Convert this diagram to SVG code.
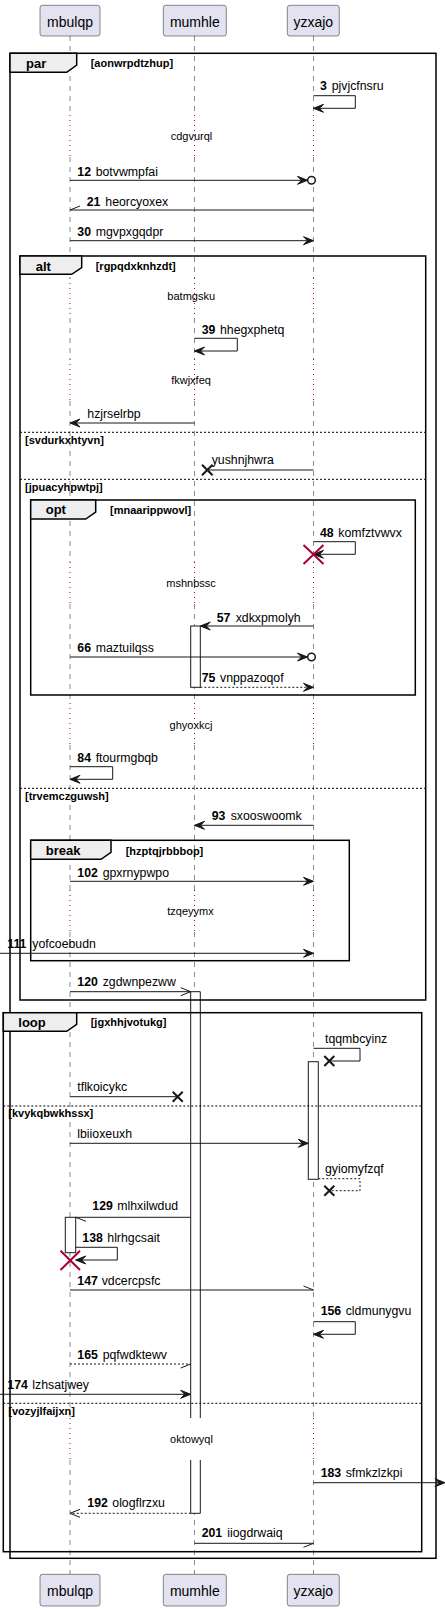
<svg xmlns="http://www.w3.org/2000/svg" width="445" height="1611" viewBox="0 0 445 1611">
<style>
.pbox{fill:#E2E2F0;stroke:#181818;stroke-width:0.5}
.pname{font-family:"Liberation Sans",Arial,sans-serif;font-size:14px;fill:#000;text-anchor:middle}
.life{stroke:#181818;stroke-width:0.5;stroke-dasharray:5,5;fill:none}
.dly{stroke:#A80036;stroke-width:1;stroke-dasharray:1,4;fill:none}
.frm{fill:none;stroke:#000;stroke-width:1.5}
.tab{fill:#EEEEEE;stroke:#000;stroke-width:1.5}
.sep{stroke:#000;stroke-width:1;stroke-dasharray:2,2}
.ftitle{font-family:"Liberation Sans",Arial,sans-serif;font-size:13px;font-weight:bold;fill:#000}
.fcond{font-family:"Liberation Sans",Arial,sans-serif;font-size:11px;font-weight:bold;fill:#000}
.m{stroke:#181818;stroke-width:1;fill:none}
.d{stroke:#181818;stroke-width:1;fill:none;stroke-dasharray:2,2}
.ah{fill:#181818;stroke:#181818;stroke-width:1}
.x{stroke:#181818;stroke-width:2}
.rx{stroke:#A80036;stroke-width:2}
.act{fill:#FFFFFF;stroke:#181818;stroke-width:1}
.t{font-family:"Liberation Sans",Arial,sans-serif;font-size:12.3px;fill:#000}
.n{font-weight:bold}
.dt{font-family:"Liberation Sans",Arial,sans-serif;font-size:11px;fill:#000;text-anchor:middle}
</style>
<defs>
<polygon id="al" points="10,-4 0,0 10,4 6,0" class="ah"/>
<polygon id="ar" points="-10,-4 0,0 -10,4 -6,0" class="ah"/>
</defs>

<g id="lifelines">
<path class="life" d="M70,36V115M70,157V278M70,318V359M70,401V562M70,604V703M70,745V890M70,932V1418M70,1460V1574"/>
<path class="life" d="M194.5,36V115M194.5,157V278M194.5,318V359M194.5,401V562M194.5,604V703M194.5,745V890M194.5,932V1418M194.5,1460V1574"/>
<path class="life" d="M313.5,36V115M313.5,157V278M313.5,318V359M313.5,401V562M313.5,604V703M313.5,745V890M313.5,932V1418M313.5,1460V1574"/>
<path class="dly" d="M70,115V157M194.5,115V157M313.5,115V157M70,278V318M194.5,278V318M313.5,278V318M70,359V401M194.5,359V401M313.5,359V401M70,562V604M194.5,562V604M313.5,562V604M70,703V745M194.5,703V745M313.5,703V745M70,890V932M194.5,890V932M313.5,890V932M70,1418V1460M194.5,1418V1460M313.5,1418V1460"/>
</g>

<g id="activations">
<rect class="act" x="190.7" y="626" width="9.6" height="61.3"/>
<rect x="190.7" y="991.7" width="9.6" height="521.6" fill="#FFFFFF"/>
<path class="m" d="M190.7,1418V991.7H200.3V1418M190.7,1460V1513.3H200.3V1460"/>
<rect class="act" x="308.3" y="1061.7" width="10" height="117.6"/>
<rect class="act" x="65.3" y="1217.3" width="10.4" height="35.4"/>
</g>

<g id="participants">
<g id="p-mbulqp-top"><rect class="pbox" x="40" y="5.3" width="60" height="30.7" rx="2.5"/><text class="pname" x="70" y="26.7">mbulqp</text></g>
<g id="p-mumhle-top"><rect class="pbox" x="163.3" y="5.3" width="63" height="30.7" rx="2.5"/><text class="pname" x="194.8" y="26.7">mumhle</text></g>
<g id="p-yzxajo-top"><rect class="pbox" x="287.3" y="5.3" width="52" height="30.7" rx="2.5"/><text class="pname" x="313.3" y="26.7">yzxajo</text></g>
<g id="p-mbulqp-bot"><rect class="pbox" x="40" y="1574.3" width="60" height="31.7" rx="2.5"/><text class="pname" x="70" y="1596">mbulqp</text></g>
<g id="p-mumhle-bot"><rect class="pbox" x="163.3" y="1574.3" width="63" height="31.7" rx="2.5"/><text class="pname" x="194.8" y="1596">mumhle</text></g>
<g id="p-yzxajo-bot"><rect class="pbox" x="287.3" y="1574.3" width="52" height="31.7" rx="2.5"/><text class="pname" x="313.3" y="1596">yzxajo</text></g>
</g>

<g id="frames">
<g id="f-par">
<rect class="frm" x="10" y="53.3" width="426" height="1505"/>
<polygon class="tab" points="10,53.3 76.7,53.3 76.7,65 66.7,72.3 10,72.3"/>
<text class="ftitle" x="26" y="68">par</text>
<text class="fcond" x="90.7" y="67">[aonwrpdtzhup]</text>
</g>
<g id="f-alt">
<rect class="frm" x="20" y="256" width="405.7" height="744"/>
<polygon class="tab" points="20,256 81.7,256 81.7,267.5 71.7,274.3 20,274.3"/>
<text class="ftitle" x="35.7" y="270.5">alt</text>
<text class="fcond" x="95.7" y="270">[rgpqdxknhzdt]</text>
<line class="sep" x1="20" y1="432.3" x2="425.7" y2="432.3"/>
<text class="fcond" x="25" y="443.5">[svdurkxhtyvn]</text>
<line class="sep" x1="20" y1="479.3" x2="425.7" y2="479.3"/>
<text class="fcond" x="25" y="490.5">[jpuacyhpwtpj]</text>
<line class="sep" x1="20" y1="788.3" x2="425.7" y2="788.3"/>
<text class="fcond" x="25" y="800">[trvemczguwsh]</text>
</g>
<g id="f-opt">
<rect class="frm" x="30.7" y="500" width="384.6" height="195"/>
<polygon class="tab" points="30.7,500 95.7,500 95.7,512 85.7,519 30.7,519"/>
<text class="ftitle" x="45.7" y="514.3">opt</text>
<text class="fcond" x="110" y="513.5">[mnaarippwovl]</text>
</g>
<g id="f-break">
<rect class="frm" x="30.7" y="840.3" width="318.6" height="120.4"/>
<polygon class="tab" points="30.7,840.3 111,840.3 111,852.3 101,859.3 30.7,859.3"/>
<text class="ftitle" x="45.7" y="855">break</text>
<text class="fcond" x="125.7" y="854.5">[hzptqjrbbbop]</text>
</g>
<g id="f-loop">
<rect class="frm" x="3.3" y="1012.7" width="418.4" height="539"/>
<polygon class="tab" points="3.3,1012.7 76.7,1012.7 76.7,1024.3 66.7,1031.3 3.3,1031.3"/>
<text class="ftitle" x="18.3" y="1026.7">loop</text>
<text class="fcond" x="90.7" y="1026">[jgxhhjvotukg]</text>
<line class="sep" x1="3.3" y1="1106" x2="421.7" y2="1106"/>
<text class="fcond" x="8.3" y="1117.3">[kvykqbwkhssx]</text>
<line class="sep" x1="3.3" y1="1403.3" x2="421.7" y2="1403.3"/>
<text class="fcond" x="8.3" y="1415">[vozyjlfaijxn]</text>
</g>
</g>

<g id="delays">
<text class="dt" x="191.5" y="140">cdgvurql</text>
<text class="dt" x="191.2" y="300">batmgsku</text>
<text class="dt" x="191" y="384.3">fkwjxfeq</text>
<text class="dt" x="191" y="587.3">mshnbssc</text>
<text class="dt" x="191" y="728.5">ghyoxkcj</text>
<text class="dt" x="190.5" y="915">tzqeyymx</text>
<text class="dt" x="191.5" y="1443.3">oktowyql</text>
</g>

<g id="connectors">
<g id="m3"><path class="m" d="M313.5,95.7H355.3V108.3H313.5"/><use href="#al" x="313.5" y="108.3"/><text class="t" x="320" y="90"><tspan class="n">3</tspan></text><text class="t" x="331.7" y="90">pjvjcfnsru</text></g>
<g id="m12"><line class="m" x1="70" y1="180.3" x2="307" y2="180.3"/><use href="#ar" x="307.5" y="180.3"/><circle cx="311.5" cy="180.3" r="3.8" fill="#fff" stroke="#181818" stroke-width="1.5"/><text class="t n" x="77.3" y="176">12</text><text class="t" x="95.7" y="176">botvwmpfai</text></g>
<g id="m21"><line class="m" x1="313.5" y1="210" x2="70" y2="210"/><line class="m" x1="70" y1="210" x2="80" y2="206"/><text class="t n" x="86.7" y="205.7">21</text><text class="t" x="105.3" y="205.7">heorcyoxex</text></g>
<g id="m30"><line class="m" x1="70" y1="240.7" x2="312" y2="240.7"/><use href="#ar" x="313.5" y="240.7"/><text class="t n" x="77.3" y="235.5">30</text><text class="t" x="95.7" y="235.5">mgvpxgqdpr</text></g>
<g id="m39"><path class="m" d="M194.5,338.3H237.3V351H194.5"/><use href="#al" x="194.5" y="351"/><text class="t n" x="201.7" y="334">39</text><text class="t" x="220" y="334">hhegxphetq</text></g>
<g id="m-hzjrselrbp"><line class="m" x1="194.5" y1="423" x2="71" y2="423"/><use href="#al" x="70" y="423"/><text class="t" x="87.3" y="418.3">hzjrselrbp</text></g>
<g id="m-yushnjhwra"><line class="m" x1="313.5" y1="470" x2="207.3" y2="470"/><path class="x" d="M202,464.7L212.6,475.3M202,475.3L212.6,464.7"/><text class="t" x="211.7" y="464">yushnjhwra</text></g>
<g id="m48"><path class="m" d="M313.5,541.7H355.3V554.3H313.5"/><use href="#al" x="313.5" y="554.3"/><path class="rx" d="M303.5,545L323.5,564M303.5,564L323.5,545"/><text class="t n" x="320" y="536.7">48</text><text class="t" x="338.3" y="536.7">komfztvwvx</text></g>
<g id="m57"><line class="m" x1="313.5" y1="626" x2="201" y2="626"/><use href="#al" x="200.3" y="626"/><text class="t n" x="216.7" y="621.7">57</text><text class="t" x="235.7" y="621.7">xdkxpmolyh</text></g>
<g id="m66"><line class="m" x1="70" y1="657" x2="307" y2="657"/><use href="#ar" x="307.5" y="657"/><circle cx="311.5" cy="657" r="3.8" fill="#fff" stroke="#181818" stroke-width="1.5"/><text class="t n" x="77.3" y="651.7">66</text><text class="t" x="95.7" y="651.7">maztuilqss</text></g>
<g id="m75"><line class="d" x1="200.3" y1="687.3" x2="312" y2="687.3"/><use href="#ar" x="313.5" y="687.3"/><text class="t n" x="201.7" y="682.3">75</text><text class="t" x="220" y="682.3">vnppazoqof</text></g>
<g id="m84"><path class="m" d="M70,766.7H112.7V779.3H70"/><use href="#al" x="70" y="779.3"/><text class="t n" x="77.3" y="761.7">84</text><text class="t" x="95.7" y="761.7">ftourmgbqb</text></g>
<g id="m93"><line class="m" x1="313.5" y1="825.3" x2="195.5" y2="825.3"/><use href="#al" x="194.5" y="825.3"/><text class="t n" x="211.7" y="820">93</text><text class="t" x="230.7" y="820">sxooswoomk</text></g>
<g id="m102"><line class="m" x1="70" y1="881.3" x2="312" y2="881.3"/><use href="#ar" x="313.5" y="881.3"/><text class="t n" x="77.3" y="876.7">102</text><text class="t" x="102.7" y="876.7">gpxrnypwpo</text></g>
<g id="m111"><line class="m" x1="0" y1="953.3" x2="312" y2="953.3"/><use href="#ar" x="313.5" y="953.3"/><text class="t n" x="7.3" y="948.3">111</text><text class="t" x="32.3" y="948.3">yofcoebudn</text></g>
<g id="m120"><line class="m" x1="70" y1="991.7" x2="190.7" y2="991.7"/><path class="m" d="M180.7,987.7L190.7,991.7L180.7,995.7"/><text class="t n" x="77.3" y="986">120</text><text class="t" x="102.7" y="986">zgdwnpezww</text></g>
<g id="m-tqqmbcyinz"><path class="m" d="M313.5,1048.3H360V1061H329.3"/><path class="x" d="M324.3,1056L334.3,1066M324.3,1066L334.3,1056"/><text class="t" x="325" y="1043.3">tqqmbcyinz</text></g>
<g id="m-tflkoicykc"><line class="m" x1="70" y1="1096.7" x2="177.7" y2="1096.7"/><path class="x" d="M172.7,1091.7L182.7,1101.7M172.7,1101.7L182.7,1091.7"/><text class="t" x="77.3" y="1091">tflkoicykc</text></g>
<g id="m-lbiioxeuxh"><line class="m" x1="70" y1="1143.3" x2="307" y2="1143.3"/><use href="#ar" x="308.3" y="1143.3"/><text class="t" x="77.3" y="1137.7">lbiioxeuxh</text></g>
<g id="m-gyiomyfzqf"><path class="d" d="M318.3,1178.7H360V1190.7H329.3"/><path class="x" d="M324.3,1185.7L334.3,1195.7M324.3,1195.7L334.3,1185.7"/><text class="t" x="325" y="1173.3">gyiomyfzqf</text></g>
<g id="m129"><line class="m" x1="190.7" y1="1217.3" x2="75.7" y2="1217.3"/><line class="m" x1="75.7" y1="1217.3" x2="86" y2="1221.3"/><text class="t n" x="92.3" y="1210">129</text><text class="t" x="117.3" y="1210">mlhxilwdud</text></g>
<g id="m138"><path class="m" d="M75.7,1247.3H117.3V1260H75.7"/><use href="#al" x="75.7" y="1260"/><path class="rx" d="M60.5,1250.7L80,1270M60.5,1270L80,1250.7"/><text class="t n" x="82.3" y="1241.7">138</text><text class="t" x="107.3" y="1241.7">hlrhgcsait</text></g>
<g id="m147"><line class="m" x1="70" y1="1290" x2="313.5" y2="1290"/><line class="m" x1="303.5" y1="1286" x2="313.5" y2="1290"/><text class="t n" x="77.3" y="1285">147</text><text class="t" x="101.7" y="1285">vdcercpsfc</text></g>
<g id="m156"><path class="m" d="M313.5,1321.7H355.3V1334.3H313.5"/><use href="#al" x="313.5" y="1334.3"/><text class="t n" x="320.7" y="1315">156</text><text class="t" x="345.7" y="1315">cldmunygvu</text></g>
<g id="m165"><line class="d" x1="70" y1="1364" x2="190.7" y2="1364"/><line class="m" x1="190.7" y1="1364" x2="180.7" y2="1368"/><text class="t n" x="77.3" y="1359">165</text><text class="t" x="102.7" y="1359">pqfwdktewv</text></g>
<g id="m174"><line class="m" x1="0" y1="1394.3" x2="189.5" y2="1394.3"/><use href="#ar" x="190.7" y="1394.3"/><text class="t n" x="7.3" y="1389.3">174</text><text class="t" x="32.3" y="1389.3">lzhsatjwey</text></g>
<g id="m183"><line class="m" x1="313.5" y1="1482.7" x2="443" y2="1482.7"/><use href="#ar" x="445" y="1482.7"/><text class="t n" x="320.7" y="1476.7">183</text><text class="t" x="345.7" y="1476.7">sfmkzlzkpi</text></g>
<g id="m192"><line class="d" x1="190.7" y1="1513.3" x2="70" y2="1513.3"/><path class="m" d="M80,1509.3L70,1513.3L80,1517.3"/><text class="t n" x="87.3" y="1507.3">192</text><text class="t" x="112.3" y="1507.3">ologflrzxu</text></g>
<g id="m201"><line class="m" x1="194.5" y1="1543.3" x2="313.5" y2="1543.3"/><line class="m" x1="303.5" y1="1547.3" x2="313.5" y2="1543.3"/><text class="t n" x="201.7" y="1537.3">201</text><text class="t" x="227.3" y="1537.3">iiogdrwaiq</text></g>
</g>
</svg>
